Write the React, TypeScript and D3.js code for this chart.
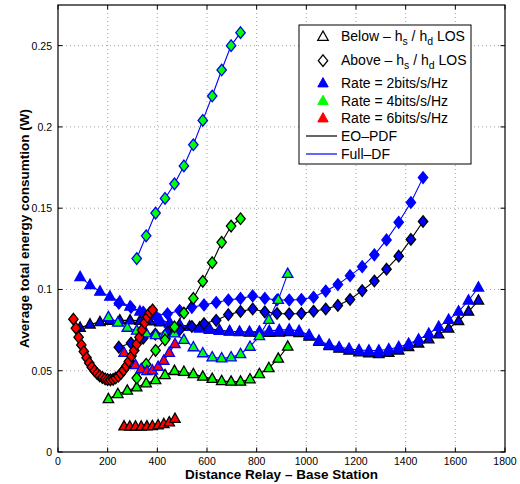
import React from "react";
import * as d3 from "d3";

const xTicks = [0, 200, 400, 600, 800, 1000, 1200, 1400, 1600, 1800];
const yTicks = [0, 0.05, 0.1, 0.15, 0.2, 0.25];
const yTickLabels = ["0", "0.05", "0.1", "0.15", "0.2", "0.25"];

// Rate = 2 bits/s/Hz, Below LOS
const rate2BelowX = [89, 129, 169, 209, 249, 290, 330, 370, 410, 450, 490, 530, 570, 610, 650, 691, 731, 771, 811, 851, 891, 931, 971, 1011, 1051, 1092, 1132, 1172, 1212, 1252, 1292, 1332, 1372, 1412, 1452, 1493, 1533, 1573, 1613, 1653, 1693];
const rate2BelowFull = [0.1076, 0.1028, 0.0987, 0.0956, 0.0926, 0.0895, 0.0865, 0.084, 0.0815, 0.0795, 0.078, 0.077, 0.076, 0.0752, 0.0746, 0.0742, 0.074, 0.074, 0.0741, 0.0745, 0.075, 0.0753, 0.0745, 0.072, 0.0685, 0.066, 0.0645, 0.0635, 0.0627, 0.0624, 0.0624, 0.0632, 0.0646, 0.0666, 0.0692, 0.0728, 0.077, 0.0813, 0.0864, 0.0932, 0.1012];
const rate2BelowEO = [0.0765, 0.0785, 0.08, 0.0808, 0.081, 0.081, 0.0808, 0.0804, 0.0798, 0.079, 0.0782, 0.0774, 0.0766, 0.0758, 0.075, 0.0743, 0.0738, 0.0735, 0.0733, 0.0733, 0.0735, 0.0738, 0.0732, 0.071, 0.0678, 0.0652, 0.0636, 0.0624, 0.0614, 0.0607, 0.0603, 0.061, 0.0625, 0.0646, 0.0668, 0.0694, 0.0724, 0.076, 0.0806, 0.0864, 0.0932];

// Rate = 2 bits/s/Hz, Above LOS
const rate2AboveX = [245, 294, 343, 392, 441, 490, 539, 588, 637, 686, 735, 784, 833, 882, 931, 980, 1029, 1078, 1127, 1176, 1225, 1274, 1323, 1372, 1421, 1470];
const rate2AboveFull = [0.0915, 0.089, 0.086, 0.084, 0.085, 0.087, 0.089, 0.0905, 0.092, 0.0935, 0.0945, 0.096, 0.0945, 0.0935, 0.0935, 0.0938, 0.0952, 0.099, 0.103, 0.1085, 0.114, 0.1213, 0.1305, 0.1413, 0.1535, 0.1688];
const rate2AboveEO = [0.0645, 0.067, 0.07, 0.0725, 0.0738, 0.0752, 0.0772, 0.079, 0.081, 0.0845, 0.0865, 0.088, 0.0862, 0.0852, 0.085, 0.0852, 0.0866, 0.088, 0.0902, 0.0938, 0.0993, 0.1052, 0.1125, 0.1205, 0.1308, 0.1418];

// Rate = 4 bits/s/Hz, Below LOS
const rate4BelowX = [203, 241, 279, 317, 355, 393, 431, 469, 507, 545, 583, 621, 659, 697, 735, 773, 811, 849, 887, 925];
const rate4BelowEO = [0.0326, 0.0357, 0.0378, 0.0398, 0.0423, 0.0443, 0.0474, 0.0499, 0.0494, 0.048, 0.0464, 0.045, 0.0437, 0.0433, 0.0433, 0.0448, 0.048, 0.0517, 0.0575, 0.0649];
const rate4BelowFull = [0.083, 0.0796, 0.0765, 0.0747, 0.073, 0.072, 0.072, 0.073, 0.069, 0.0645, 0.0608, 0.0583, 0.0577, 0.0583, 0.0603, 0.0648, 0.0714, 0.0813, 0.0936, 0.1096];

// Rate = 4 bits/s/Hz, Above LOS
const rate4AboveX = [317, 355, 393, 431, 469, 507, 545, 583, 621, 659, 697, 735];
const rate4AboveFull = [0.119, 0.133, 0.147, 0.156, 0.165, 0.176, 0.189, 0.204, 0.219, 0.235, 0.25, 0.258];
const rate4AboveEO = [0.0455, 0.054, 0.0625, 0.069, 0.077, 0.0855, 0.0945, 0.105, 0.1165, 0.129, 0.139, 0.1435];

// Rate = 6 bits/s/Hz, Below LOS
const rate6BelowX = [266, 289, 312, 335, 358, 380, 403, 426, 448, 471];
const rate6BelowEO = [0.0158, 0.0157, 0.0157, 0.0157, 0.0158, 0.016, 0.0165, 0.0172, 0.0183, 0.0205];
const rate6BelowFull = [0.061, 0.057, 0.0535, 0.051, 0.0498, 0.0502, 0.0525, 0.0562, 0.061, 0.0665];

// Rate = 6 bits/s/Hz, Above LOS
const rate6AboveX = [62, 72, 83, 94, 104, 115, 126, 136, 147, 158, 168, 179, 190, 200, 211, 222, 232, 243, 253, 264, 275, 285, 296, 307, 317, 328, 338, 349, 360, 370, 381];
const rate6AboveEO = [0.0817, 0.0762, 0.0706, 0.0659, 0.0618, 0.058, 0.0548, 0.0522, 0.05, 0.0482, 0.0468, 0.0458, 0.045, 0.0445, 0.0444, 0.0447, 0.0455, 0.0466, 0.0482, 0.0503, 0.0528, 0.0557, 0.059, 0.0625, 0.0664, 0.0706, 0.075, 0.0795, 0.083, 0.0858, 0.0874];

const BLUE = "#0000ff";
const GREEN = "#00ff00";
const RED = "#ff0000";
const BLACK = "#000000";

type Series = { xs: number[]; ys: number[]; marker: "tri" | "dia"; face: string; edge: string; line: string };

const seriesList: Series[] = [
  { xs: rate2BelowX, ys: rate2BelowEO, marker: "tri", face: BLUE, edge: BLACK, line: BLACK },
  { xs: rate2BelowX, ys: rate2BelowFull, marker: "tri", face: BLUE, edge: BLUE, line: BLUE },
  { xs: rate2AboveX, ys: rate2AboveFull, marker: "dia", face: BLUE, edge: BLUE, line: BLUE },
  { xs: rate2AboveX, ys: rate2AboveEO, marker: "dia", face: BLUE, edge: BLACK, line: BLACK },
  { xs: rate4BelowX, ys: rate4BelowEO, marker: "tri", face: GREEN, edge: BLACK, line: BLACK },
  { xs: rate4BelowX, ys: rate4BelowFull, marker: "tri", face: GREEN, edge: BLUE, line: BLUE },
  { xs: rate4AboveX, ys: rate4AboveFull, marker: "dia", face: GREEN, edge: BLUE, line: BLUE },
  { xs: rate4AboveX, ys: rate4AboveEO, marker: "dia", face: GREEN, edge: BLACK, line: BLACK },
  { xs: rate6BelowX, ys: rate6BelowEO, marker: "tri", face: RED, edge: BLACK, line: BLACK },
  { xs: rate6BelowX, ys: rate6BelowFull, marker: "tri", face: RED, edge: BLUE, line: BLUE },
  { xs: rate6AboveX, ys: rate6AboveEO, marker: "dia", face: RED, edge: BLACK, line: BLACK },
];

const TRI = "M0,-5.7L5.2,3.6L-5.2,3.6Z";
const DIA = "M0,-5.8L4.7,0L0,5.8L-4.7,0Z";

const FONT = "'Liberation Sans', Arial, Helvetica, sans-serif";

export default function App() {
  const W = 520, H = 484;
  const L = 58, R = 505, T = 5, B = 452;
  const x = d3.scaleLinear().domain([0, 1800]).range([L, R]);
  const y = d3.scaleLinear().domain([0, 0.275]).range([B, T]);
  const line = d3.line<[number, number]>().x((d) => x(d[0])).y((d) => y(d[1]));

  const lx = 299, ly = 25, lw = 172, lh = 139;
  const mx = 323, tx = 341;
  const rows = [36.7, 60.7, 83.3, 101, 118.3, 136, 154];

  return (
    <svg width={W} height={H} style={{ position: "absolute", left: 0, top: 0, background: "#fff" }} fontFamily={FONT}>
      <rect x={0} y={0} width={W} height={H} fill="#fff" />
      {/* grid */}
      {xTicks.slice(1, -1).map((t) => (
        <line key={"gx" + t} x1={x(t)} x2={x(t)} y1={T} y2={B} stroke="#8c8c8c" strokeWidth={0.8} strokeDasharray="1 3" />
      ))}
      {yTicks.slice(1).map((t) => (
        <line key={"gy" + t} x1={L} x2={R} y1={y(t)} y2={y(t)} stroke="#8c8c8c" strokeWidth={0.8} strokeDasharray="1 3" />
      ))}
      {/* ticks */}
      {xTicks.map((t) => (
        <g key={"tx" + t}>
          <line x1={x(t)} x2={x(t)} y1={B} y2={B - 4.5} stroke="#000" />
          <line x1={x(t)} x2={x(t)} y1={T} y2={T + 4.5} stroke="#000" />
          <text x={x(t)} y={465} fontSize={10.5} textAnchor="middle" fill="#000">{t}</text>
        </g>
      ))}
      {yTicks.map((t, i) => (
        <g key={"ty" + t}>
          <line x1={L} x2={L + 4.5} y1={y(t)} y2={y(t)} stroke="#000" />
          <line x1={R} x2={R - 4.5} y1={y(t)} y2={y(t)} stroke="#000" />
          <text x={52} y={y(t) + 4} fontSize={10.5} textAnchor="end" fill="#000">{yTickLabels[i]}</text>
        </g>
      ))}
      {/* series */}
      {seriesList.map((s, i) => {
        const pts: [number, number][] = s.xs.map((v, j) => [v, s.ys[j]]);
        return (
          <g key={"s" + i}>
            <path d={line(pts) || ""} fill="none" stroke={s.line} strokeWidth={1.1} />
            {pts.map((p, j) => (
              <path key={j} d={s.marker === "tri" ? TRI : DIA} transform={`translate(${x(p[0])},${y(p[1])})`} fill={s.face} stroke={s.edge} strokeWidth={1.3} strokeLinejoin="miter" />
            ))}
          </g>
        );
      })}
      {/* frame */}
      <rect x={L} y={T} width={R - L} height={B - T} fill="none" stroke="#000" strokeWidth={1.2} />
      {/* axis labels */}
      <text x={(L + R) / 2} y={479} fontSize={13.5} fontWeight="bold" textAnchor="middle" fill="#000">Distance Relay – Base Station</text>
      <text transform={`translate(29,${(T + B) / 2}) rotate(-90)`} fontSize={13.5} fontWeight="bold" textAnchor="middle" fill="#000">Average total energy consumtion (W)</text>
      {/* legend */}
      <rect x={lx} y={ly} width={lw} height={lh} fill="#fff" stroke="#000" strokeWidth={1} />
      <path d={TRI} transform={`translate(${mx},${rows[0]})`} fill="#fff" stroke="#000" strokeWidth={1.3} />
      <path d={DIA} transform={`translate(${mx},${rows[1]})`} fill="#fff" stroke="#000" strokeWidth={1.3} />
      <path d={TRI} transform={`translate(${mx},${rows[2]})`} fill={BLUE} stroke={BLUE} strokeWidth={1} />
      <path d={TRI} transform={`translate(${mx},${rows[3]})`} fill={GREEN} stroke={GREEN} strokeWidth={1} />
      <path d={TRI} transform={`translate(${mx},${rows[4]})`} fill={RED} stroke={RED} strokeWidth={1} />
      <line x1={306} x2={337} y1={rows[5]} y2={rows[5]} stroke={BLACK} strokeWidth={1.2} />
      <line x1={306} x2={337} y1={rows[6]} y2={rows[6]} stroke={BLUE} strokeWidth={1.2} />
      <text x={tx} y={rows[0] + 4.5} fontSize={14} fill="#000">
        Below – h<tspan fontSize={10.5} dy={4}>s</tspan><tspan dy={-4}> / h</tspan><tspan fontSize={10.5} dy={4}>d</tspan><tspan dy={-4}> LOS</tspan>
      </text>
      <text x={tx} y={rows[1] + 4.5} fontSize={14} fill="#000">
        Above – h<tspan fontSize={10.5} dy={4}>s</tspan><tspan dy={-4}> / h</tspan><tspan fontSize={10.5} dy={4}>d</tspan><tspan dy={-4}> LOS</tspan>
      </text>
      <text x={tx} y={rows[2] + 4.5} fontSize={14} fill="#000">Rate = 2bits/s/Hz</text>
      <text x={tx} y={rows[3] + 4.5} fontSize={14} fill="#000">Rate = 4bits/s/Hz</text>
      <text x={tx} y={rows[4] + 4.5} fontSize={14} fill="#000">Rate = 6bits/s/Hz</text>
      <text x={tx} y={rows[5] + 4.5} fontSize={14} fill="#000">EO–PDF</text>
      <text x={tx} y={rows[6] + 4.5} fontSize={14} fill="#000">Full–DF</text>
    </svg>
  );
}
